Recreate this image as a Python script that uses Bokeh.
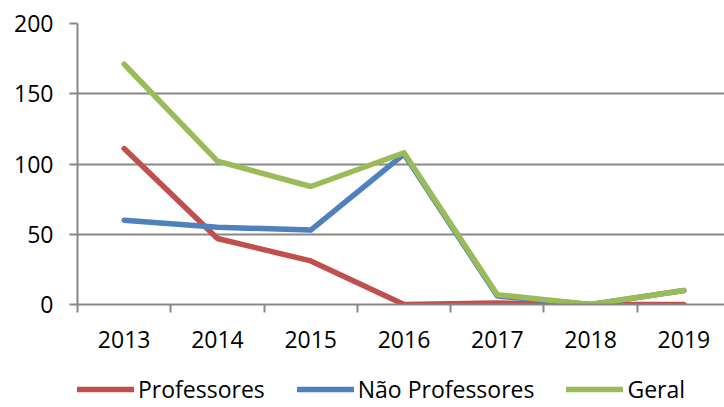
from bokeh.plotting import figure
from bokeh.layouts import column
from bokeh.models import (FixedTicker, Range1d, Legend, LegendItem, ColumnDataSource)
from bokeh.embed import file_html
from bokeh.resources import INLINE

years = ["2013", "2014", "2015", "2016", "2017", "2018", "2019"]
professores = [111, 47, 31, 0, 1, 0, 0]
nao_professores = [60, 55, 53, 107, 6, 0, 10]
geral = [171, 102, 84, 108, 7, 0, 10]

series = [
    ("Professores", professores, "#C0504D"),
    ("Não Professores", nao_professores, "#4F81BD"),
    ("Geral", geral, "#9BBB59"),
]

xpos = [i + 0.5 for i in range(len(years))]
FONT = "Open Sans"
FS = "23px"
GRAY = "#878787"
LW = 5.5

p = figure(frame_width=647, frame_height=281, output_backend="svg", toolbar_location=None,
           x_range=Range1d(0, 6.935), y_range=Range1d(0, 200),
           min_border_left=77, min_border_right=0, min_border_top=23,
           min_border_bottom=56)
p.outline_line_color = None
p.background_fill_color = "white"
p.border_fill_color = "white"

# x axis
p.xaxis.ticker = FixedTicker(ticks=xpos, minor_ticks=list(range(len(years) + 1)))
p.xaxis.major_label_overrides = {x: y for x, y in zip(xpos, years)}
p.xaxis.major_tick_line_color = None
p.xaxis.minor_tick_line_color = GRAY
p.xaxis.minor_tick_line_width = 2
p.xaxis.minor_tick_out = 8
p.xaxis.minor_tick_in = 0
p.xaxis.axis_line_color = GRAY
p.xaxis.axis_line_width = 2
p.xaxis.major_label_text_font = FONT
p.xaxis.major_label_text_font_size = FS
p.xaxis.major_label_text_color = "black"
p.xaxis.major_label_standoff = 18
p.xgrid.grid_line_color = None

# y axis
p.yaxis.ticker = FixedTicker(ticks=[0, 50, 100, 150, 200])
p.yaxis.major_tick_line_color = GRAY
p.yaxis.major_tick_line_width = 2
p.yaxis.major_tick_out = 8
p.yaxis.major_tick_in = 0
p.yaxis.minor_tick_line_color = None
p.yaxis.axis_line_color = GRAY
p.yaxis.axis_line_width = 2
p.yaxis.major_label_text_font = FONT
p.yaxis.major_label_text_font_size = FS
p.yaxis.major_label_text_color = "black"
p.yaxis.major_label_standoff = 16
p.ygrid.grid_line_color = GRAY
p.ygrid.grid_line_width = 2

for name, vals, color in series:
    src = ColumnDataSource(dict(x=xpos, y=vals))
    p.line("x", "y", source=src, line_color=color, line_width=LW,
           line_cap="round", line_join="round")

# legend strip below the chart (its lines lie outside its own view)
lg = figure(width=724, height=47, output_backend="svg", toolbar_location=None,
            x_range=Range1d(0, 6.935), y_range=Range1d(1000, 1001),
            x_axis_location=None, y_axis_location=None,
            min_border_left=0, min_border_right=0, min_border_top=0,
            min_border_bottom=0)
lg.outline_line_color = None
lg.xgrid.grid_line_color = None
lg.ygrid.grid_line_color = None
items = []
for name, vals, color in series:
    src = ColumnDataSource(dict(x=xpos, y=vals))
    r = lg.line("x", "y", source=src, line_color=color, line_width=LW,
                line_cap="round")
    items.append(LegendItem(label=name, renderers=[r]))

legend = Legend(items=items, orientation="horizontal", location=(0, 2),
                glyph_width=57, glyph_height=20, label_standoff=4, spacing=32,
                padding=0, margin=0, border_line_color=None,
                background_fill_alpha=0,
                label_text_font=FONT, label_text_font_size=FS,
                label_text_color="black")
lg.add_layout(legend, "center")

layout = column(p, lg, spacing=0)
open("out.html", "w").write(file_html(layout, INLINE))
